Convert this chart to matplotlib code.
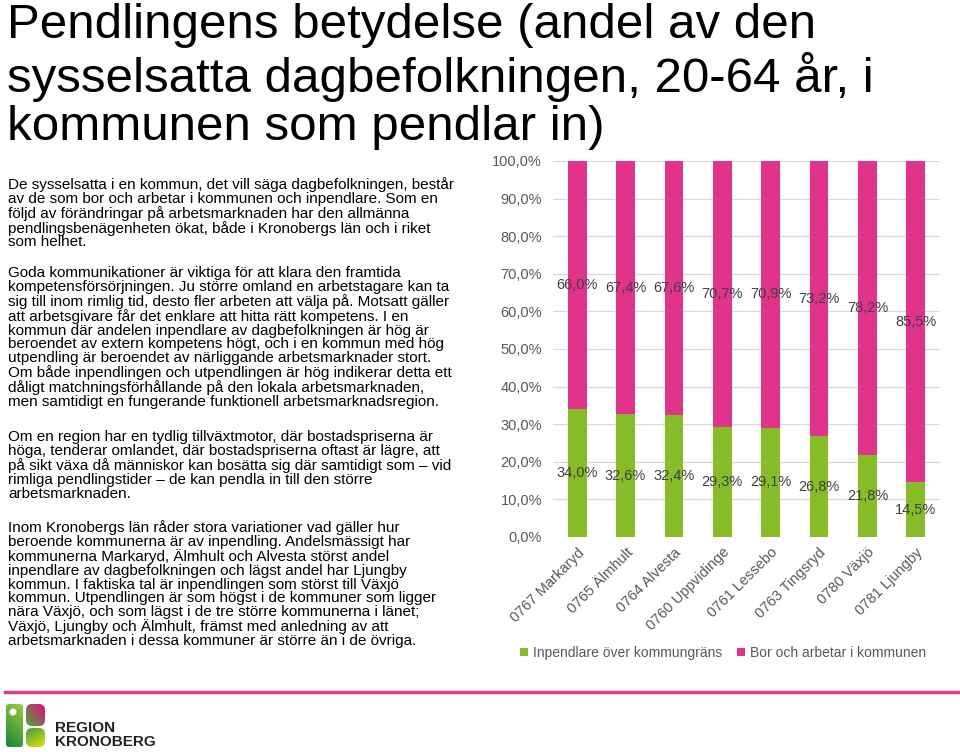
import numpy as np
import matplotlib.pyplot as plt
import matplotlib as mpl
from matplotlib.patches import FancyBboxPatch

mpl.rc("font", family=["Liberation Sans", "DejaVu Sans"], size=10)

# ----- DATA -----

kommuner = [
    "0767 Markaryd", "0765 Älmhult", "0764 Alvesta", "0760 Uppvidinge",
    "0761 Lessebo", "0763 Tingsryd", "0780 Växjö", "0781 Ljungby",
]
inpendlare = [34.0, 32.6, 32.4, 29.3, 29.1, 26.8, 21.8, 14.5]
bor_arbetar = [66.0, 67.4, 67.6, 70.7, 70.9, 73.2, 78.2, 85.5]
series_labels = ["Inpendlare över kommungräns", "Bor och arbetar i kommunen"]
yticks = [0, 10, 20, 30, 40, 50, 60, 70, 80, 90, 100]

title = ("Pendlingens betydelse (andel av den\n"
         "sysselsatta dagbefolkningen, 20-64 år, i\n"
         "kommunen som pendlar in)")

paragraphs = [
    "De sysselsatta i en kommun, det vill säga dagbefolkningen, består\n"
    "av de som bor och arbetar i kommunen och inpendlare. Som en\n"
    "följd av förändringar på arbetsmarknaden har den allmänna\n"
    "pendlingsbenägenheten ökat, både i Kronobergs län och i riket\n"
    "som helhet.",
    "Goda kommunikationer är viktiga för att klara den framtida\n"
    "kompetensförsörjningen. Ju större omland en arbetstagare kan ta\n"
    "sig till inom rimlig tid, desto fler arbeten att välja på. Motsatt gäller\n"
    "att arbetsgivare får det enklare att hitta rätt kompetens. I en\n"
    "kommun där andelen inpendlare av dagbefolkningen är hög är\n"
    "beroendet av extern kompetens högt, och i en kommun med hög\n"
    "utpendling är beroendet av närliggande arbetsmarknader stort.\n"
    "Om både inpendlingen och utpendlingen är hög indikerar detta ett\n"
    "dåligt matchningsförhållande på den lokala arbetsmarknaden,\n"
    "men samtidigt en fungerande funktionell arbetsmarknadsregion.",
    "Om en region har en tydlig tillväxtmotor, där bostadspriserna är\n"
    "höga, tenderar omlandet, där bostadspriserna oftast är lägre, att\n"
    "på sikt växa då människor kan bosätta sig där samtidigt som – vid\n"
    "rimliga pendlingstider – de kan pendla in till den större\n"
    "arbetsmarknaden.",
    "Inom Kronobergs län råder stora variationer vad gäller hur\n"
    "beroende kommunerna är av inpendling. Andelsmässigt har\n"
    "kommunerna Markaryd, Älmhult och Alvesta störst andel\n"
    "inpendlare av dagbefolkningen och lägst andel har Ljungby\n"
    "kommun. I faktiska tal är inpendlingen som störst till Växjö\n"
    "kommun. Utpendlingen är som högst i de kommuner som ligger\n"
    "nära Växjö, och som lägst i de tre större kommunerna i länet;\n"
    "Växjö, Ljungby och Älmhult, främst med anledning av att\n"
    "arbetsmarknaden i dessa kommuner är större än i de övriga.",
]
para_tops = [177, 266, 430, 520]  # pixel rows of paragraph tops

green = "#86BC25"
pink = "#E2338A"
W, H = 960, 752

# ----- FIGURE -----

fig = plt.figure(figsize=(W / 100, H / 100), dpi=100)

fig.text(7 / W, 1 - 3 / H, title, fontsize=35.5, va="top", ha="left",
         linespacing=1.09, color="black")

for txt, top in zip(paragraphs, para_tops):
    fig.text(8 / W, 1 - top / H, txt, fontsize=11, va="top", ha="left",
             linespacing=0.99, color="black")

# ----- CHART -----

ax = fig.add_axes([553 / W, 1 - 537 / H, 387 / W, 376 / H])
x = np.arange(len(kommuner))
b1 = ax.bar(x, inpendlare, width=0.39, color=green, label=series_labels[0], zorder=3)
b2 = ax.bar(x, bor_arbetar, width=0.39, bottom=inpendlare, color=pink,
            label=series_labels[1], zorder=3)

fmt = lambda v: f"{v:.1f}%".replace(".", ",")
ax.bar_label(b1, labels=[fmt(v) for v in inpendlare], label_type="center",
             fontsize=10.5, color="#404040")
ax.bar_label(b2, labels=[fmt(v) for v in bor_arbetar], label_type="center",
             fontsize=10.5, color="#404040")

ax.set_xlim(-0.5, len(kommuner) - 0.5)
ax.set_ylim(0, 100)
ax.set_yticks(yticks)
ax.set_yticklabels([f"{t:.1f}%".replace(".", ",") for t in yticks],
                   fontsize=10.5, color="#595959")
ax.set_xticks(x)
ax.set_xticklabels(kommuner, rotation=45, ha="right", rotation_mode="anchor",
                   fontsize=10.5, color="#595959")
ax.tick_params(axis="both", length=0, pad=8)
ax.tick_params(axis="x", pad=6)
ax.grid(axis="y", color="#D9D9D9", linewidth=0.9, zorder=0)
for s in ax.spines.values():
    s.set_visible(False)

ax.legend(loc="center", bbox_to_anchor=((723 - 553) / 387, 1 - (653 - 161) / 376),
          ncol=2, frameon=False, fontsize=10, handlelength=0.55,
          handleheight=0.55, handletextpad=0.35, columnspacing=1.1,
          labelcolor="#595959")

# ----- FOOTER -----

fig.add_artist(plt.Line2D([5 / W, 1], [1 - 692 / H, 1 - 692 / H],
                          color="#D4418C", linewidth=2.5))

lax = fig.add_axes([0, 0, 1, 1], facecolor="none")
lax.set_xlim(0, W)
lax.set_ylim(H, 0)
lax.axis("off")


def grad_piece(x0, y0, w, h, c_start, c_end, angle, rounding):
    patch = FancyBboxPatch((x0, y0), w, h, linewidth=0, facecolor="none",
                           boxstyle=f"round,pad=0,rounding_size={rounding}")
    lax.add_patch(patch)
    t = np.linspace(0, 1, 40)
    gx, gy = np.meshgrid(t, t)
    f = (gx * np.cos(angle) + gy * np.sin(angle))
    f = (f - f.min()) / (f.max() - f.min())
    c0 = np.array(mpl.colors.to_rgb(c_start))
    c1 = np.array(mpl.colors.to_rgb(c_end))
    img = c0 + f[..., None] * (c1 - c0)
    im = lax.imshow(img, extent=(x0, x0 + w, y0 + h, y0), origin="upper",
                    interpolation="bilinear", aspect="auto")
    im.set_clip_path(patch)


grad_piece(6, 704, 17, 43, "#9CCB3B", "#17873A", np.pi * 0.6, 3)
lax.add_patch(mpl.patches.Circle((13, 712), 2.8, color="white", zorder=5))
grad_piece(26, 704, 19, 22, "#4FA83C", "#E4087F", -np.pi * 0.25, 6)
grad_piece(26, 728, 19, 19, "#3E9F3E", "#E6E10C", np.pi * 0.35, 6)
lax.set_xlim(0, W)
lax.set_ylim(H, 0)

fig.text(55 / W, 1 - 728 / H, "REGION", fontsize=11, fontweight="bold",
         va="center", ha="left", color="#222222")
fig.text(55 / W, 1 - 742 / H, "KRONOBERG", fontsize=11, fontweight="bold",
         va="center", ha="left", color="#222222")

fig.savefig("out.png", dpi=100)
